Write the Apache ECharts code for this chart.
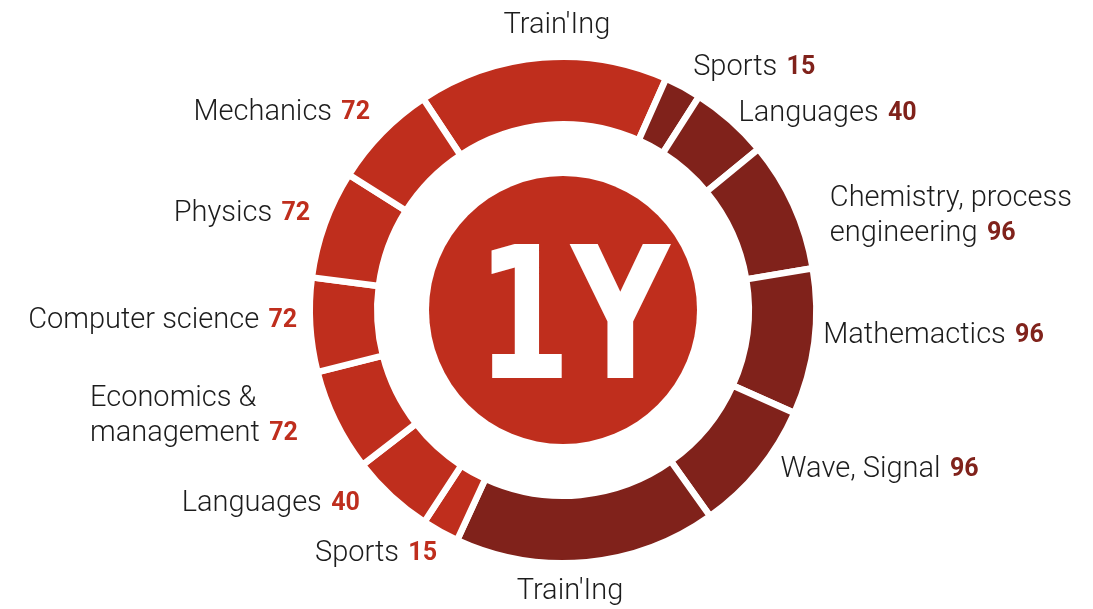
<!DOCTYPE html>
<html>
<head>
<meta charset="utf-8">
<script src="https://cdn.jsdelivr.net/npm/echarts@6/dist/echarts.min.js"></script>
<style>
  html, body { margin: 0; padding: 0; background: #fff; }
  #chart { width: 1093px; height: 609px; }
</style>
</head>
<body>
<div id="chart"></div>
<script>
// ring segments, clockwise from the top "Train'Ing" block
var names = ["Train'Ing", 'Sports', 'Languages', 'Chemistry, process\nengineering', 'Mathemactics', 'Wave, Signal',
             "Train'Ing", 'Sports', 'Languages', 'Economics &\nmanagement', 'Computer science', 'Physics', 'Mechanics'];
var credits = [null, 15, 40, 96, 96, 96, null, 15, 40, 72, 72, 72, 72];
// arc size of each block in degrees, as drawn (not proportional to credits)
var arcSizes = [57.5, 8.5, 18, 30, 33.5, 30.5, 60.2, 8.5, 19.1, 23.5, 21.6, 24.9, 24.2];
// 1 = bright red block, 2 = dark red block
var shades = [1, 2, 2, 2, 2, 2, 2, 1, 1, 1, 1, 1, 1];
var centerText = '1Y';

var BRIGHT = '#bf2e1d';
var DARK = '#80221b';
var CENTER = [563, 310];

// label tweaks from the default outside spot: [dx, dy, align]
var labelNudges = [
    [20.5, -25, 'center'], [2, -13], [-2, -1], [25, 14], [-3, -7], [11, -5],
    [-22.5, 23, 'center'], [5, 16.5], [-21.5, 3], [-234, -8, 'left'], [-1, -5], [-3, -8], [-2, -15.5]
];

var chart = echarts.init(document.getElementById('chart'));

var ringData = names.map(function (name, i) {
    return {
        name: name,
        value: arcSizes[i],
        itemStyle: { color: shades[i] === 1 ? BRIGHT : DARK }
    };
});

chart.setOption({
    animation: false,
    graphic: [{
        type: 'text',
        x: CENTER[0] + 10,
        y: CENTER[1] + 20,
        scaleX: 0.74,
        z: 100,
        style: {
            text: centerText,
            fill: '#fff',
            font: 'bold 184px "DejaVu Sans"',
            align: 'center',
            verticalAlign: 'middle'
        }
    }],
    series: [
        {
            type: 'pie',
            center: CENTER,
            radius: [0, 134],
            silent: true,
            label: { show: false },
            labelLine: { show: false },
            data: [{ value: 1, itemStyle: { color: BRIGHT } }]
        },
        {
            type: 'pie',
            center: CENTER,
            radius: [185.75, 253.25],
            startAngle: 123.5,
            clockwise: true,
            avoidLabelOverlap: false,
            silent: true,
            itemStyle: { borderColor: '#fff', borderWidth: 6.5 },
            label: {
                show: true,
                position: 'outside',
                formatter: function (p) {
                    var i = p.dataIndex;
                    if (credits[i] == null) {
                        return '{n|' + p.name + '}';
                    }
                    return '{n|' + p.name + '} {' + (shades[i] === 1 ? 'b' : 'd') + '|' + credits[i] + '}';
                },
                rich: {
                    n: { fontFamily: 'Roboto', fontWeight: 300, fontSize: 29, color: '#1c1c1c', lineHeight: 35 },
                    b: { fontFamily: 'Roboto', fontWeight: 'bold', fontSize: 25, color: BRIGHT, lineHeight: 35, padding: [0, 0, 0, 6] },
                    d: { fontFamily: 'Roboto', fontWeight: 'bold', fontSize: 25, color: DARK, lineHeight: 35, padding: [0, 0, 0, 6] }
                }
            },
            labelLine: { show: false, length: 7, length2: 0 },
            labelLayout: function (params) {
                var n = labelNudges[params.dataIndex];
                var out = { dx: n[0], dy: n[1] };
                if (n[2]) {
                    out.align = n[2];
                }
                return out;
            },
            data: ringData
        }
    ]
});
</script>
</body>
</html>
